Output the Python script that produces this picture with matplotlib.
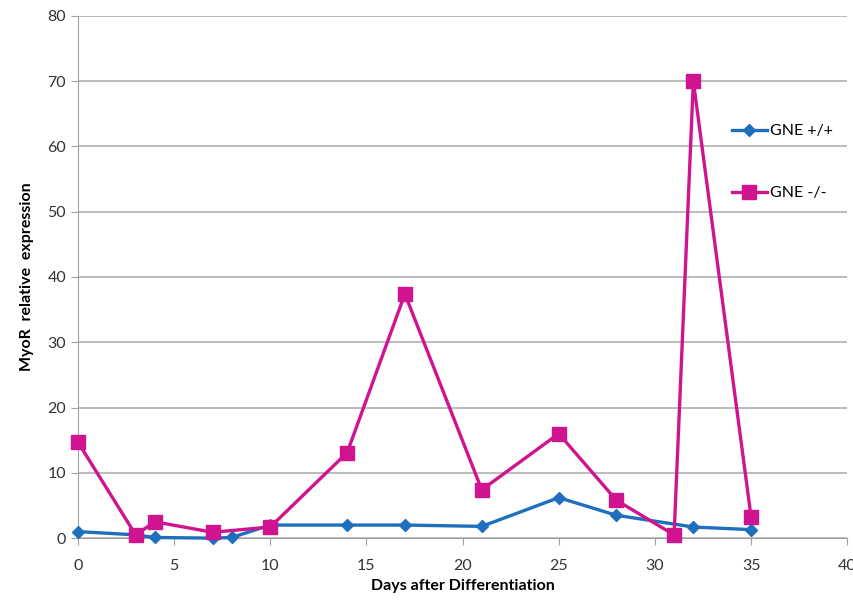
import numpy as np
import matplotlib.pyplot as plt

# days after differentiation
days_wt = [0, 3, 4, 7, 8, 10, 14, 17, 21, 25, 28, 32, 35]
expr_wt = [1.0, 0.5, 0.1, 0.0, 0.1, 2.0, 2.0, 2.0, 1.8, 6.2, 3.5, 1.7, 1.3]

days_ko = [0, 3, 4, 7, 10, 14, 17, 21, 25, 28, 31, 32, 35]
expr_ko = [14.7, 0.5, 2.5, 0.9, 1.7, 13.1, 37.4, 7.4, 16.0, 5.8, 0.5, 70.0, 3.3]

plt.rcParams['font.family'] = ['Lato', 'DejaVu Sans']

fig = plt.figure(figsize=(8.54, 6.06), dpi=100)
ax = fig.add_axes([0.0913, 0.112, 0.9007, 0.862])

blue = '#1f6fbf'
pink = '#d0138f'

ax.plot(days_wt, expr_wt, color=blue, lw=2.4, marker='D', ms=6.5,
        label='GNE +/+', zorder=3, clip_on=False)
ax.plot(days_ko, expr_ko, color=pink, lw=2.4, marker='s', ms=9.5,
        label='GNE -/-', zorder=4, clip_on=False)

ax.set_xlim(0, 40)
ax.set_ylim(0, 80)
ax.set_xticks(np.arange(0, 41, 5))
ax.set_yticks(np.arange(0, 81, 10))
ax.yaxis.grid(True, color='#b0b0b0', lw=1.2)
ax.set_axisbelow(True)
for s in ['top', 'right']:
    ax.spines[s].set_visible(False)
for s in ['left', 'bottom']:
    ax.spines[s].set_color('#a0a0a0')
ax.tick_params(colors='#a0a0a0', labelcolor='#333333', labelsize=11.5,
               length=5)
ax.tick_params(axis='x', pad=10)

ax.set_xlabel('Days after Differentiation', fontsize=11.5, fontweight='bold',
              labelpad=4)
ax.set_ylabel('MyoR  relative  expression', fontsize=11.5, fontweight='bold',
              labelpad=10)

leg = ax.legend(loc='upper right', bbox_to_anchor=(1.0, 0.82), frameon=False,
                fontsize=11.5, labelspacing=3.0, handlelength=2.2,
                handletextpad=0.2)

fig.savefig('out.png', dpi=100)
